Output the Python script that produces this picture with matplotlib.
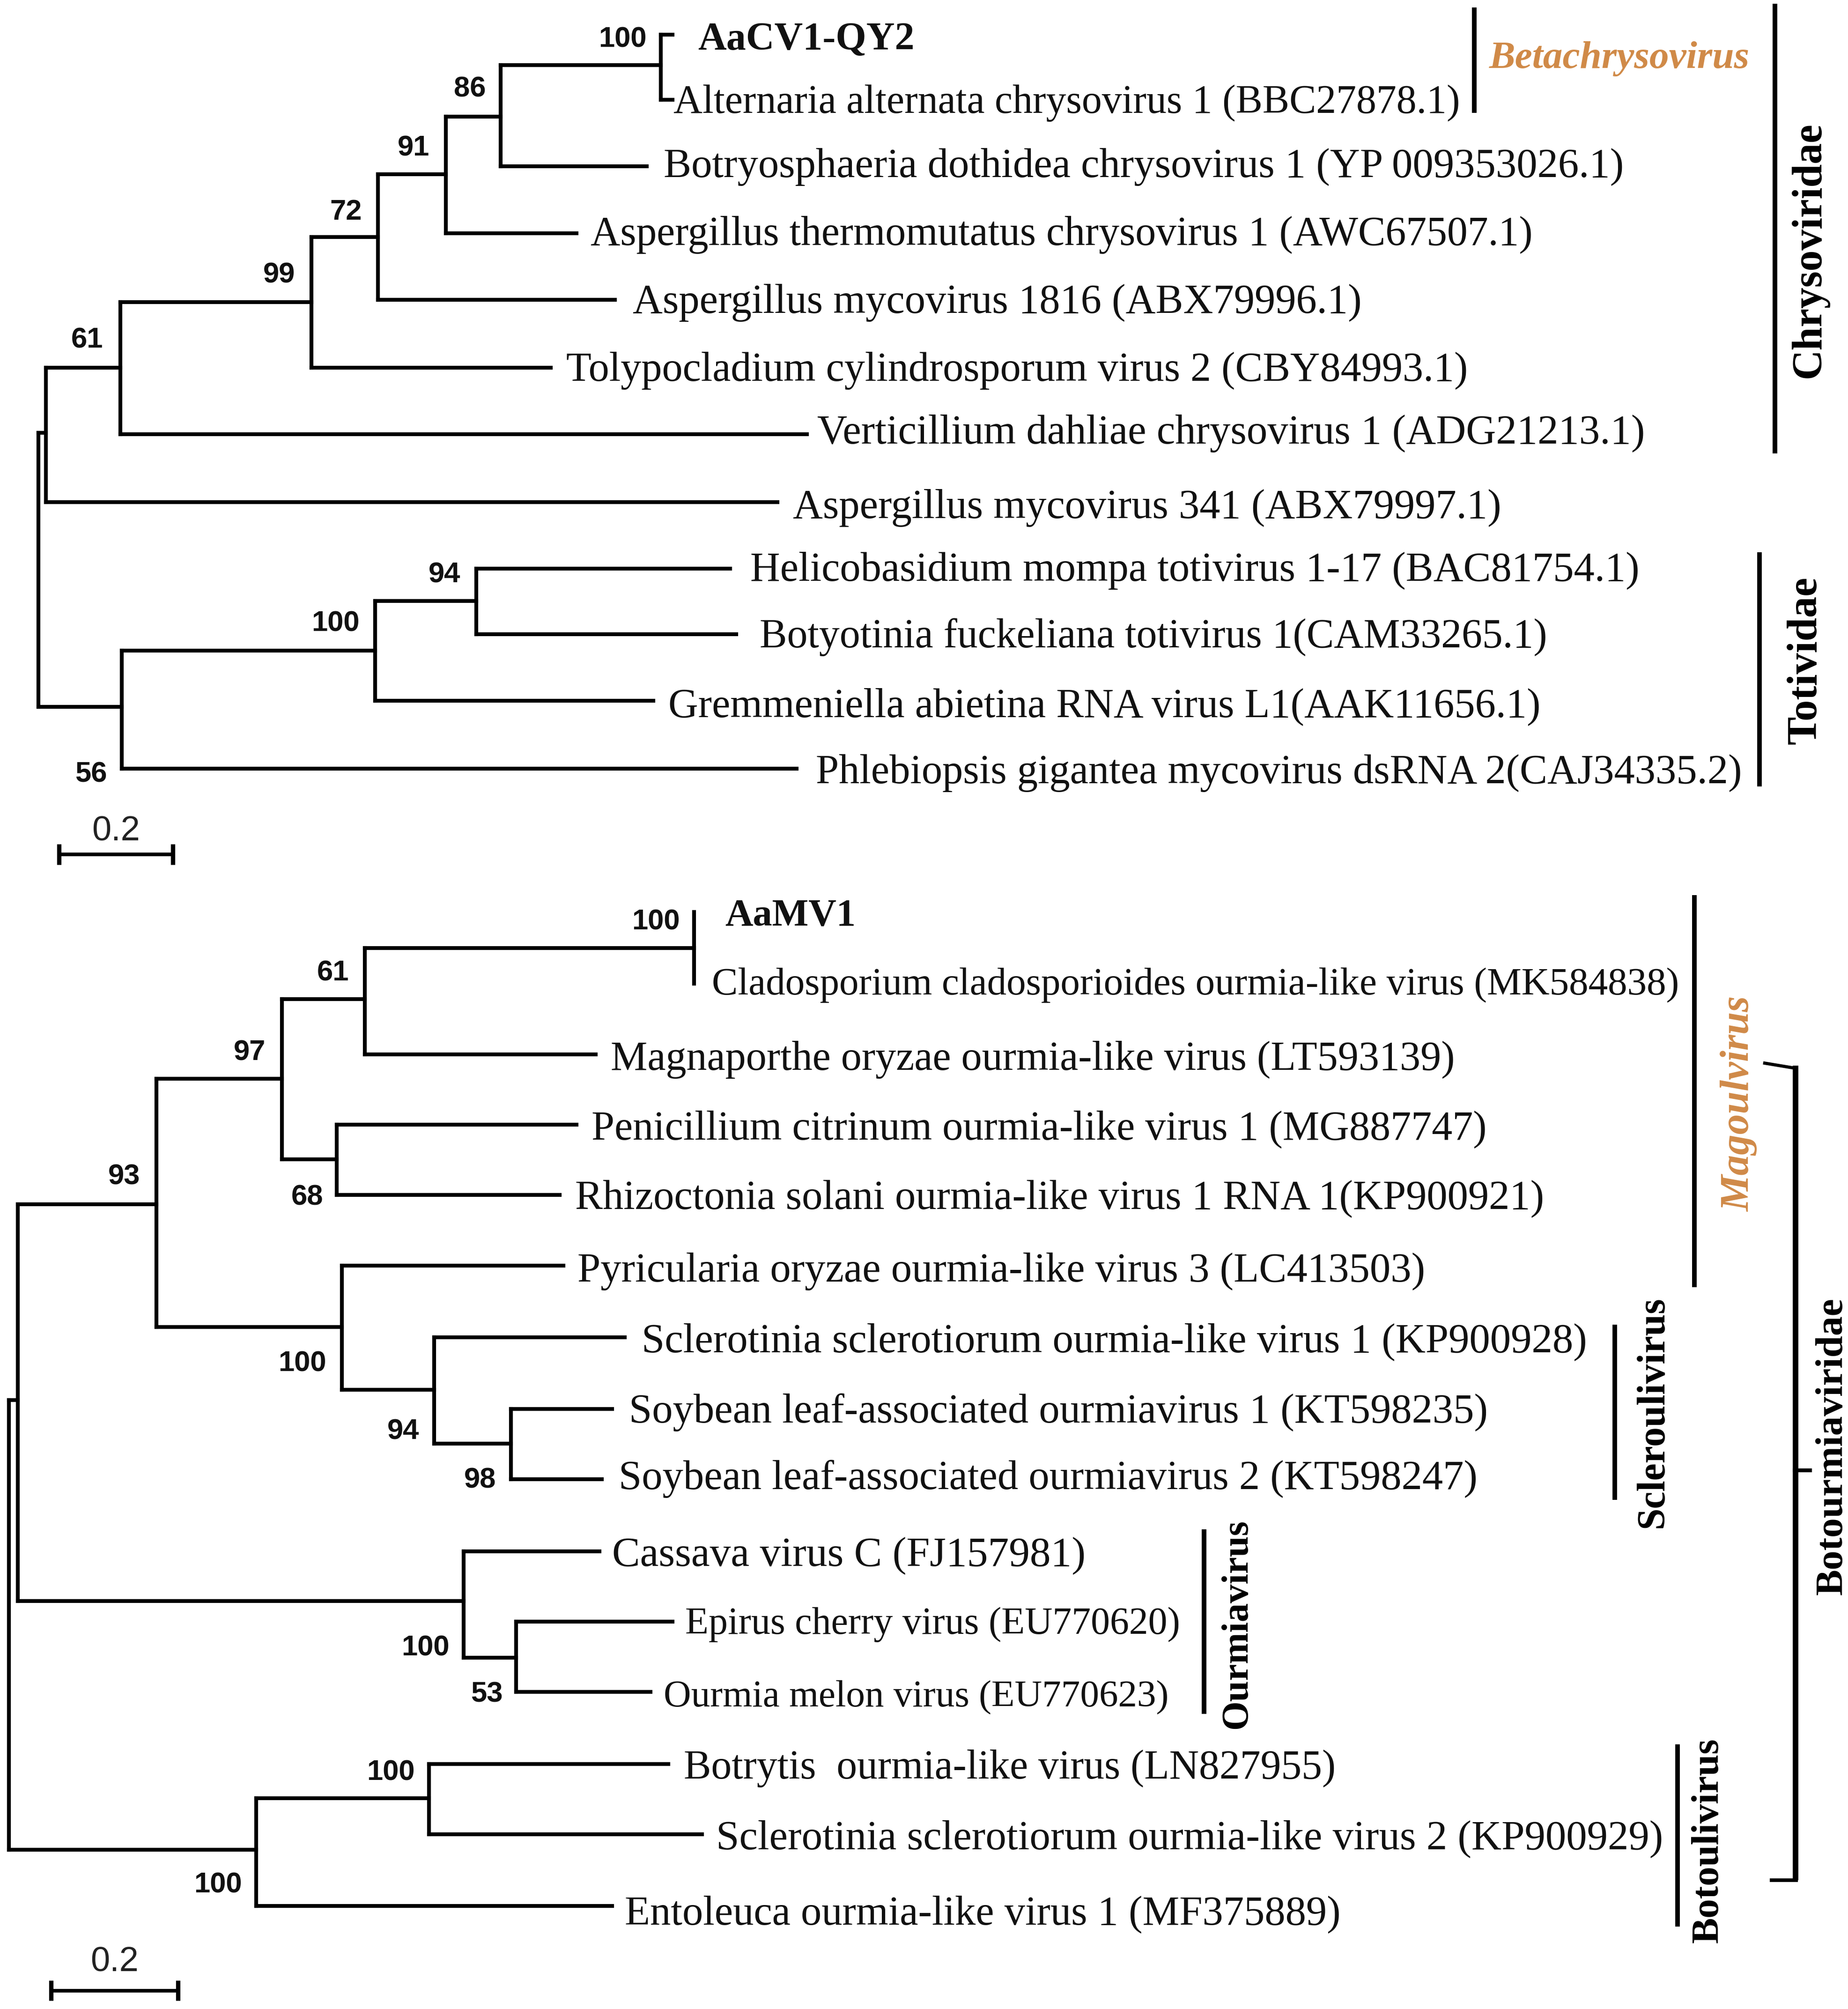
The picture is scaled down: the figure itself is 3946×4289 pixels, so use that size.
# Arvores filogeneticas - Chrysoviridae / Botourmiaviridae

import matplotlib
matplotlib.use('Agg')
import matplotlib.pyplot as plt

# 1. Ramos horizontais: x inicial, x final, y (em pixels da figura reduzida)
ramos_h = [
    (516, 525, 27), (516, 525, 78), (391, 516, 51), (391, 505, 130), (348, 391, 91),
    (348, 450, 182), (295, 348, 136), (295, 480, 234), (243, 295, 185), (243, 430, 287),
    (94, 243, 236), (94, 630, 339), (36, 94, 287), (36, 607, 392), (30, 36, 338),
    (30, 95, 552), (95, 293, 508), (95, 622, 600), (293, 372, 469), (293, 510, 547),
    (372, 570, 444), (372, 575, 495),
    (7, 14, 1093), (7, 200, 1444), (14, 122, 940), (14, 362, 1250), (122, 220, 842),
    (122, 267, 1036), (220, 285, 780), (220, 263, 905), (285, 542, 740), (285, 465, 823),
    (263, 450, 878), (263, 437, 933), (267, 440, 988), (267, 339, 1085), (339, 488, 1044),
    (339, 399, 1127), (399, 478, 1100), (399, 470, 1155), (362, 468, 1211), (362, 403, 1294),
    (403, 525, 1266), (403, 508, 1321), (200, 335, 1404), (200, 478, 1488), (335, 522, 1377),
    (335, 548, 1432),
]

# 2. Ramos verticais: x, y inicial, y final
ramos_v = [
    (516, 27, 78), (391, 51, 130), (348, 91, 182), (295, 136, 234), (243, 185, 287),
    (94, 236, 339), (36, 287, 392), (30, 338, 552), (95, 508, 600), (293, 469, 547),
    (372, 444, 495),
    (7, 1093, 1444), (14, 940, 1250), (122, 842, 1036), (220, 780, 905), (285, 740, 823),
    (542, 712, 768), (263, 878, 933), (267, 988, 1085), (339, 1044, 1127), (399, 1100, 1155),
    (362, 1211, 1294), (403, 1266, 1321), (200, 1404, 1488), (335, 1377, 1432),
]

# 3. Nomes das folhas: texto, x inicial, x final, y
folhas = [
    ('Alternaria alternata chrysovirus 1 (BBC27878.1)', 526, 1140, 77),
    ('Botryosphaeria dothidea chrysovirus 1 (YP 009353026.1)', 518, 1268, 127),
    ('Aspergillus thermomutatus chrysovirus 1 (AWC67507.1)', 461, 1197, 180),
    ('Aspergillus mycovirus 1816 (ABX79996.1)', 494, 1063, 233),
    ('Tolypocladium cylindrosporum virus 2 (CBY84993.1)', 442, 1146, 286),
    ('Verticillium dahliae chrysovirus 1 (ADG21213.1)', 638, 1284, 335),
    ('Aspergillus mycovirus 341 (ABX79997.1)', 619, 1172, 393),
    ('Helicobasidium mompa totivirus 1-17 (BAC81754.1)', 586, 1280, 442),
    ('Botyotinia fuckeliana totivirus 1(CAM33265.1)', 593, 1208, 494),
    ('Gremmeniella abietina RNA virus L1(AAK11656.1)', 522, 1203, 548),
    ('Phlebiopsis gigantea mycovirus dsRNA 2(CAJ34335.2)', 637, 1360, 600),
    ('Cladosporium cladosporioides ourmia-like virus (MK584838)', 556, 1312, 766),
    ('Magnaporthe oryzae ourmia-like virus (LT593139)', 477, 1136, 824),
    ('Penicillium citrinum ourmia-like virus 1 (MG887747)', 462, 1161, 878),
    ('Rhizoctonia solani ourmia-like virus 1 RNA 1(KP900921)', 449, 1206, 932),
    ('Pyricularia oryzae ourmia-like virus 3 (LC413503)', 451, 1112, 989),
    ('Sclerotinia sclerotiorum ourmia-like virus 1 (KP900928)', 501, 1239, 1044),
    ('Soybean leaf-associated ourmiavirus 1 (KT598235)', 491, 1162, 1099),
    ('Soybean leaf-associated ourmiavirus 2 (KT598247)', 483, 1154, 1151),
    ('Cassava virus C (FJ157981)', 478, 848, 1211),
    ('Epirus cherry virus (EU770620)', 535, 921, 1265),
    ('Ourmia melon virus (EU770623)', 518, 912, 1322),
    ('Botrytis  ourmia-like virus (LN827955)', 534, 1043, 1377),
    ('Sclerotinia sclerotiorum ourmia-like virus 2 (KP900929)', 559, 1298, 1432),
    ('Entoleuca ourmia-like virus 1 (MF375889)', 488, 1047, 1491),
]
destaques = [('AaCV1-QY2', 545, 714, 28), ('AaMV1', 566, 668, 712)]

# 4. Valores de bootstrap: texto, x central, y central
suporte = [
    ('100', 486, 29), ('86', 367, 68), ('91', 323, 114), ('72', 270, 164), ('99', 218, 213),
    ('61', 68, 264), ('94', 347, 447), ('100', 262, 485), ('56', 71, 603),
    ('100', 512, 718), ('61', 260, 758), ('97', 195, 820), ('93', 97, 917), ('68', 240, 933),
    ('100', 236, 1063), ('94', 315, 1116), ('98', 375, 1154), ('100', 332, 1285),
    ('53', 380, 1321), ('100', 305, 1382), ('100', 170, 1470),
]

# 5. Barras de grupo: x, y inicial, y final, espessura
barras = [
    (1151, 6, 88, 3.6), (1386, 3, 354, 3.6), (1374, 431, 614, 3.6), (1323, 699, 1005, 3.6),
    (1261, 1034, 1171, 3.6), (940, 1194, 1338, 3.6), (1310, 1362, 1504, 3.6),
]

# 6. Nomes dos grupos: texto, x, inicio e fim do texto, cor, peso, estilo, rotacao
grupos = [
    ('Betachrysovirus', 46, 1163, 1366, '#d08a48', 'bold', 'italic', 0),
    ('Chrysoviridae', 1413, 95, 295, 'black', 'bold', 'normal', 90),
    ('Totividae', 1410, 450, 581, 'black', 'bold', 'normal', 90),
    ('Magoulvirus', 1358, 778, 946, '#d08a48', 'bold', 'italic', 90),
    ('Scleroulivirus', 1291, 1012, 1193, 'black', 'bold', 'normal', 90),
    ('Ourmiavirus', 966, 1186, 1350, 'black', 'bold', 'normal', 90),
    ('Botoulivirus', 1334, 1357, 1517, 'black', 'bold', 'normal', 90),
    ('Botourmiaviridae', 1431, 1013, 1245, 'black', 'bold', 'normal', 90),
]

# 7. Escalas: texto, x inicial, x final, y da barra, y do texto
escalas = [('0.2', 46, 135, 667, 649), ('0.2', 40, 139, 1554, 1532)]

ESCALA = 3946 / 1443
DPI = 100


def pt(px):
    # converte pixels da figura reduzida para pontos
    return px * ESCALA * 72 / DPI


fig = plt.figure(figsize=(39.46, 42.89), dpi=DPI)
ax = fig.add_axes([0, 0, 1, 1])
ax.set_xlim(0, 1443)
ax.set_ylim(4289 / ESCALA, 0)
ax.axis('off')

# 8. Desenhar a arvore
lw_ramo = pt(3)
for x0, x1, y in ramos_h:
    ax.plot([x0, x1], [y, y], color='black', lw=lw_ramo, solid_capstyle='projecting')
for x, y0, y1 in ramos_v:
    ax.plot([x, x], [y0, y1], color='black', lw=lw_ramo, solid_capstyle='projecting')

# 9. Textos das folhas, com a fonte ajustada a largura medida
serif = ['Liberation Serif', 'DejaVu Serif']
renderer = fig.canvas.get_renderer()
for lista, peso in ((folhas, 'normal'), (destaques, 'bold')):
    for nome, x0, x1, y in lista:
        t = ax.text(x0, y, nome, family=serif, fontsize=pt(30), weight=peso,
                    ha='left', va='center_baseline', color='#111111')
        largura = t.get_window_extent(renderer).width / ESCALA
        t.set_fontsize(pt(30) * (x1 - x0) / largura)

for valor, x, y in suporte:
    ax.text(x, y + 2, valor, family=['Liberation Sans Narrow', 'Liberation Sans'], fontsize=pt(22.5),
            weight='bold', ha='center', va='center', color='#111111')

# 10. Barras e nomes dos grupos
for x, y0, y1, esp in barras:
    ax.plot([x, x], [y0, y1], color='black', lw=pt(esp), solid_capstyle='butt')

for nome, fixo, ini, fim, cor, peso, estilo, rot in grupos:
    meio = (ini + fim) / 2
    pos = (meio, fixo) if rot == 0 else (fixo, meio)
    t = ax.text(pos[0], pos[1], nome, family=serif, fontsize=pt(30), color=cor, weight=peso,
                style=estilo, rotation=rot, ha='center', va='center')
    caixa = t.get_window_extent(renderer)
    comprimento = max(caixa.width, caixa.height) / ESCALA
    t.set_fontsize(pt(30) * (fim - ini) / comprimento)

# 11. Chave de Botourmiaviridae
ax.plot([1378, 1402], [830, 834], color='black', lw=pt(2.5))
ax.plot([1402, 1402], [832, 1468], color='black', lw=pt(4.3), solid_capstyle='butt')
ax.plot([1382, 1404], [1468, 1468], color='black', lw=pt(2.8), solid_capstyle='butt')
ax.plot([1400, 1415], [1148, 1148], color='black', lw=pt(3), solid_capstyle='butt')

# 12. Barras de escala
for texto, x0, x1, y, y_texto in escalas:
    ax.plot([x0, x1], [y, y], color='black', lw=pt(2.8), solid_capstyle='butt')
    ax.plot([x0, x0], [y - 8, y + 8], color='black', lw=pt(3.4), solid_capstyle='butt')
    ax.plot([x1, x1], [y - 8, y + 8], color='black', lw=pt(3.4), solid_capstyle='butt')
    ax.text((x0 + x1) / 2, y_texto, texto, family=['Liberation Sans', 'DejaVu Sans'],
            fontsize=pt(27), ha='center', va='center', color='#222222')

fig.savefig('out.png', dpi=DPI, facecolor='white')
